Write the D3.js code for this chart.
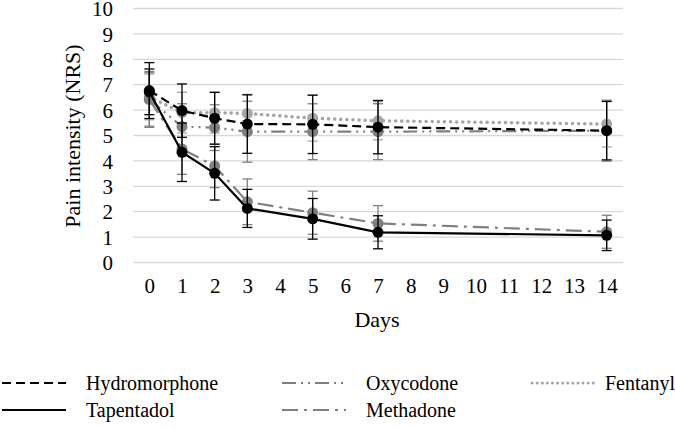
<!DOCTYPE html>
<html><head><meta charset="utf-8">
<script src="https://cdn.jsdelivr.net/npm/d3@7/dist/d3.min.js"></script>
<style>body{margin:0;background:#fff}svg text{font-family:"Liberation Serif","Times New Roman",Tinos,"DejaVu Serif",serif !important;fill:#000}</style>
</head><body>
<script>
const days = [0, 1, 2, 3, 5, 7, 14];
const xTicks = [0,1,2,3,4,5,6,7,8,9,10,11,12,13,14];
const yTicks = [0,1,2,3,4,5,6,7,8,9,10];
const hydromorphone = [6.75, 5.96, 5.66, 5.43, 5.42, 5.31, 5.17];
const hydromorphoneSD = [1.1, 1.05, 1.02, 1.15, 1.15, 1.05, 1.15];
const tapentadol = [6.7, 4.32, 3.49, 2.11, 1.7, 1.17, 1.05];
const tapentadolSD = [0.9, 1.15, 1.05, 0.75, 0.8, 0.65, 0.6];
const oxycodone = [6.4, 5.33, 5.29, 5.13, 5.13, 5.13, 5.17];
const oxycodoneSD = [1.05, 0.9, 0.9, 1.2, 1.1, 1.1, 1.2];
const methadone = [6.4, 4.45, 3.78, 2.37, 1.94, 1.52, 1.19];
const methadoneSD = [1.1, 1.0, 0.85, 0.9, 0.85, 0.7, 0.65];
const fentanyl = [6.5, 5.88, 5.88, 5.85, 5.66, 5.56, 5.43];
const fentanylSD = [0.9, 0.8, 0.8, 0.75, 0.9, 0.75, 0.9];

const series = [
  {name:"Fentanyl", v:fentanyl, sd:fentanylSD, color:"#a6a6a6", dash:"0.1 6", cap:"round", w:3.5},
  {name:"Oxycodone", v:oxycodone, sd:oxycodoneSD, color:"#808080", dash:"14 5 2 5 2 5", cap:"butt", w:2.2},
  {name:"Methadone", v:methadone, sd:methadoneSD, color:"#808080", dash:"16 6 3 6", cap:"butt", w:2.2},
  {name:"Hydromorphone", v:hydromorphone, sd:hydromorphoneSD, color:"#000000", dash:"9 5", cap:"butt", w:2.2},
  {name:"Tapentadol", v:tapentadol, sd:tapentadolSD, color:"#000000", dash:null, cap:"butt", w:2.2}
];

const W = 675, H = 429;
const svg = d3.select("body").append("svg").attr("width", W).attr("height", H);
const x = d3.scaleLinear().domain([-0.5, 14.5]).range([133, 623]);
const y = d3.scaleLinear().domain([0, 10]).range([262, 8]);

// gridlines
svg.append("g").attr("transform","translate(133,0)")
  .call(d3.axisLeft(y).tickValues(yTicks).tickSize(-490).tickFormat(""))
  .call(g=>g.select(".domain").remove())
  .call(g=>g.selectAll("line").attr("stroke","#d9d9d9").attr("stroke-width",1.3));

// y tick labels
svg.append("g").attr("transform","translate(113,1)")
  .call(d3.axisLeft(y).tickValues(yTicks).tickSize(0).tickPadding(0))
  .call(g=>g.select(".domain").remove())
  .call(g=>g.selectAll("text").attr("font-size",21));

// x tick labels
svg.append("g").attr("transform","translate(0,278)")
  .call(d3.axisBottom(x).tickValues(xTicks).tickSize(0).tickPadding(0).tickFormat(d3.format("d")))
  .call(g=>g.select(".domain").remove())
  .call(g=>g.selectAll("text").attr("font-size",21));

svg.append("text").attr("x",377).attr("y",327).attr("text-anchor","middle")
  .attr("font-size",22).text("Days");
svg.append("text").attr("transform","translate(80,136) rotate(-90)").attr("text-anchor","middle")
  .attr("font-size",22).text("Pain intensity (NRS)");

const line = d3.line().x((d,i)=>x(days[i])).y(d=>y(d));

series.forEach(s=>{
  const g = svg.append("g");
  days.forEach((d,i)=>{
    const cx = x(d), hi = y(s.v[i]+s.sd[i]), lo = y(s.v[i]-s.sd[i]);
    g.append("line").attr("x1",cx).attr("x2",cx).attr("y1",hi).attr("y2",lo).attr("stroke",s.color).attr("stroke-width",1.3);
    [hi,lo].forEach(yy=>g.append("line").attr("x1",cx-5).attr("x2",cx+5).attr("y1",yy).attr("y2",yy).attr("stroke",s.color).attr("stroke-width",1.3));
  });
  g.append("path").datum(s.v).attr("d",line).attr("fill","none").attr("stroke",s.color)
    .attr("stroke-width",s.w).attr("stroke-dasharray",s.dash).attr("stroke-linecap",s.cap);
  g.selectAll("circle").data(s.v).enter().append("circle")
    .attr("cx",(d,i)=>x(days[i])).attr("cy",d=>y(d)).attr("r",5.5).attr("fill",s.color);
});

// legend
const legend = [
  {name:"Hydromorphone", color:"#000", dash:"9 5", cap:"butt", w:2.2, lx:0, ly:383},
  {name:"Oxycodone", color:"#808080", dash:"14 5 2 5 2 5", cap:"butt", w:2.2, lx:280, ly:383},
  {name:"Fentanyl", color:"#a6a6a6", dash:"0.1 5", cap:"round", w:3, lx:530, ly:383},
  {name:"Tapentadol", color:"#000", dash:null, cap:"butt", w:2.2, lx:0, ly:410},
  {name:"Methadone", color:"#808080", dash:"16 6 3 6", cap:"butt", w:2.2, lx:280, ly:410}
];
const lg = svg.append("g");
legend.forEach(l=>{
  lg.append("line").attr("x1",l.lx+2).attr("x2",l.lx+66).attr("y1",l.ly).attr("y2",l.ly)
    .attr("stroke",l.color).attr("stroke-width",l.w).attr("stroke-dasharray",l.dash).attr("stroke-linecap",l.cap);
  lg.append("text").attr("x",l.lx+(l.name==="Fentanyl"?75:86)).attr("y",l.ly+7).attr("font-size",20).text(l.name);
});
</script>
</body></html>
